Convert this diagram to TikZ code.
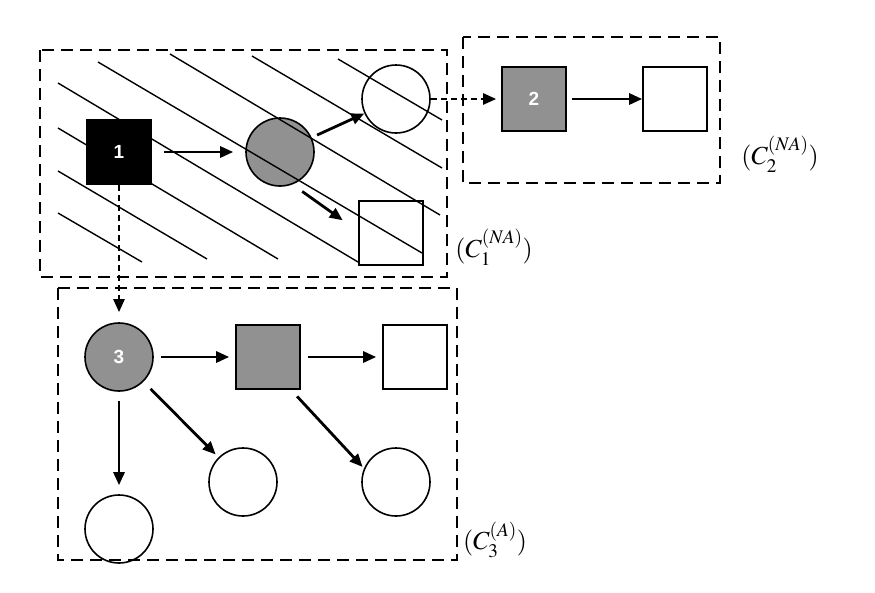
\documentclass[tikz,border=0pt]{standalone}
\usepackage{mathptmx}
\usepackage{fontspec}
\newfontfamily\labelfont{Liberation Sans}
\usetikzlibrary{arrows.meta}
\definecolor{nodegray}{RGB}{145,145,145}

\begin{document}
\begin{tikzpicture}
  [x=1pt,y=-1pt,
   every node/.style={line width=1.6pt,inner sep=0pt},
   sq/.style={draw,minimum size=64pt},
   ci/.style={draw,circle,minimum size=68pt},
   num/.style={text=white,font=\labelfont\bfseries\fontsize{19}{19}\selectfont},
   lbl/.style={font=\fontsize{26}{30}\selectfont},
   grp/.style={draw,line width=1.6pt,dash pattern=on 12pt off 7pt},
   arr/.style={-{Triangle[length=13pt,width=11pt]},line width=2.8pt},
   darr/.style={arr,line width=2.4pt,dash pattern=on 6pt off 4pt}]
  \useasboundingbox (0,0) rectangle (875,592);

  % dashed groups
  \draw[grp] (40,50) rectangle (447,277);
  \draw[grp] (463,37) rectangle (720,183);
  \draw[grp] (58,288) rectangle (457,560);
  \node[lbl] (l1) at (494,247) {$(C_1^{(NA)})$};
  \node[lbl] (l2) at (780,154) {$(C_2^{(NA)})$};
  \node[lbl] (l3) at (495,540) {$(C_3^{(A)})$};

  % group 1
  \node[sq,fill=black,num] (1) at (119,152) {1};
  \node[ci,fill=nodegray] (a) at (280,152) {};
  \node[ci] (b) at (396,99) {};
  \node[sq] (c) at (391,233) {};
  \foreach \xa/\ya/\xb/\yb in {338/59/442/120,252/56/442/168,170/54/440/215,
      98/62/422/253,58/83/358/262,58/128/278/259,58/171/207/259,58/213/142/262}
    \draw[line width=1.4pt] (\xa,\ya) -- (\xb,\yb);

  % group 2
  \node[sq,fill=nodegray,num] (2) at (534,99) {2};
  \node[sq] (d) at (675,99) {};

  % group 3
  \node[ci,fill=nodegray,num] (3) at (119,357) {3};
  \node[sq,fill=nodegray] (e) at (268,357) {};
  \node[sq] (f) at (415,357) {};
  \node[ci] (g) at (119,529) {};
  \node[ci] (h) at (243,482) {};
  \node[ci] (i) at (396,482) {};

  % arrows
  \draw[arr,shorten <=12pt,shorten >=12pt] (1) -- (a);
  \draw[arr,shorten <=6pt] (a) -- (b);
  \draw[arr,shorten <=12pt,shorten >=19pt] (a.-69) -- (c.177);
  \draw[darr,shorten >=10pt] (1) -- (3);
  \draw[darr,shorten >=5pt] (b) -- (2);
  \draw[arr,shorten <=5pt] (2) -- (d);
  \foreach \from/\to in {3/e,e/f}
    \draw[arr,shorten <=7pt,shorten >=6pt] (\from) -- (\to);
  \draw[arr,shorten <=9pt,shorten >=9pt] (3) -- (g);
  \draw[arr,shorten <=10pt,shorten >=4pt] (3) -- (h);
  \draw[arr,shorten <=9pt,shorten >=2pt] (e.-55) -- (i.157);

\end{tikzpicture}
\end{document}
